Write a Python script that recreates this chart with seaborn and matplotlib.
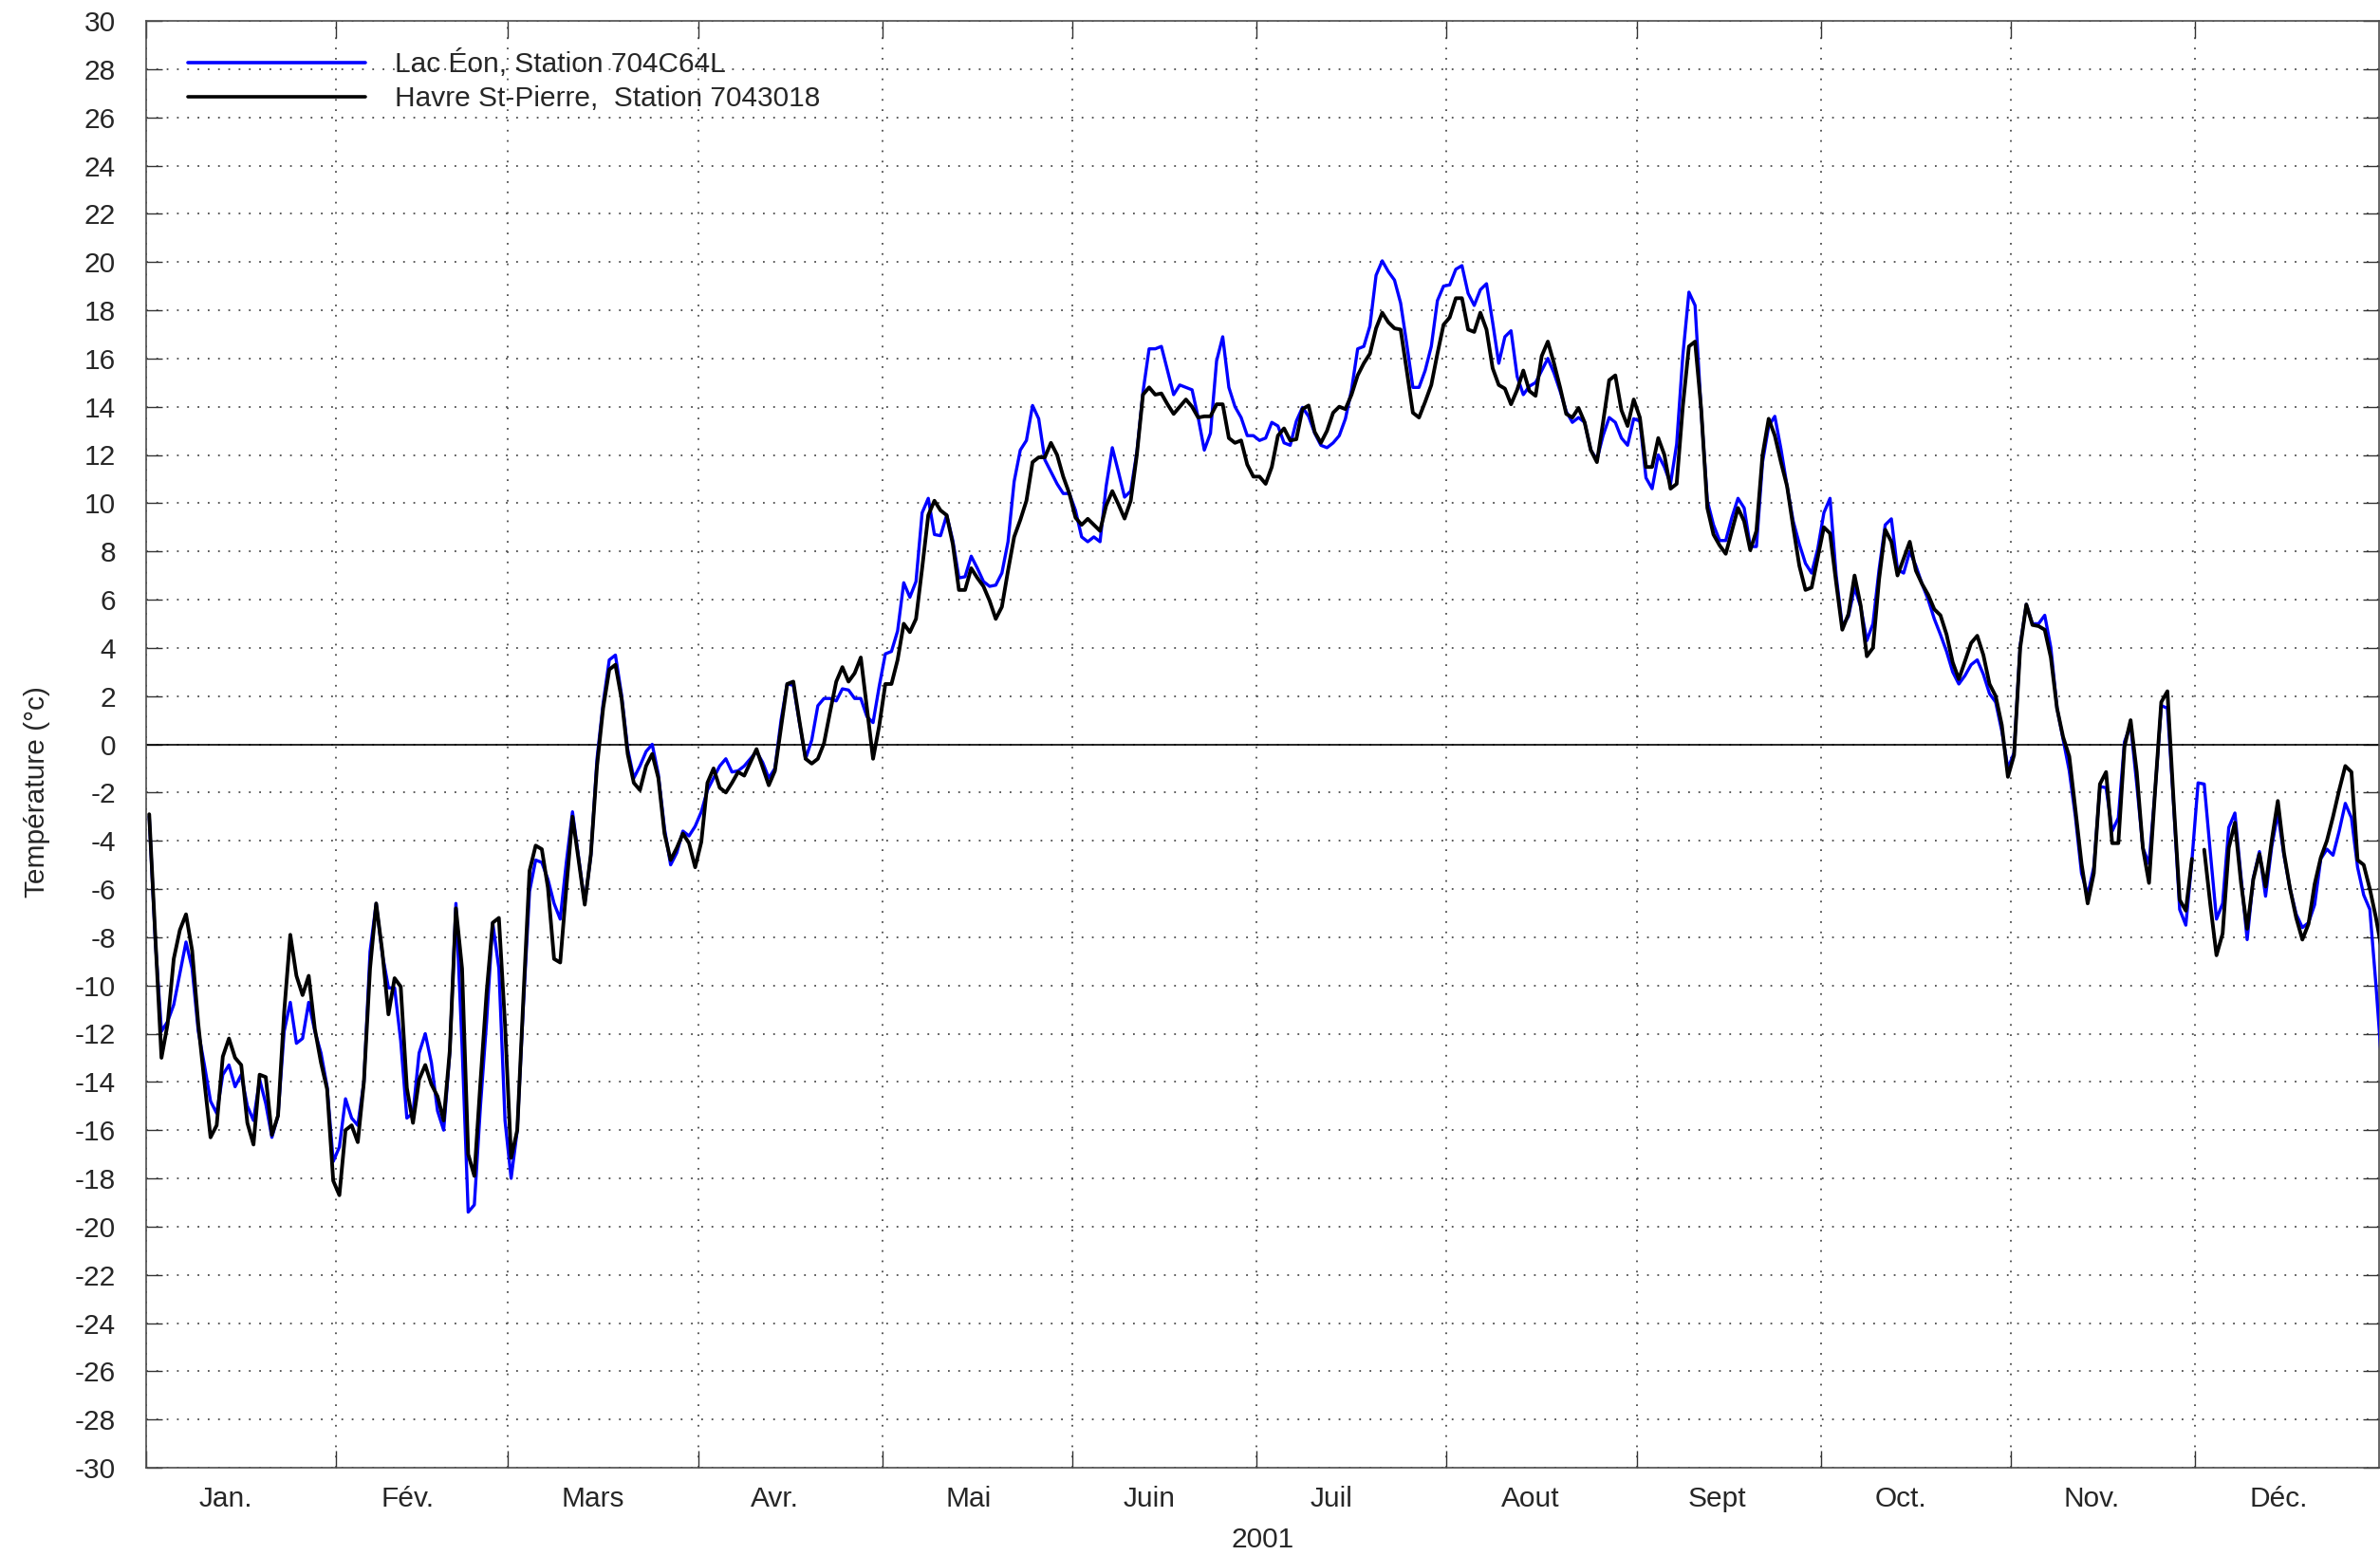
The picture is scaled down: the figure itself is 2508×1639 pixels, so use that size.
import numpy as np
import pandas as pd
import matplotlib
matplotlib.use("Agg")
import matplotlib.pyplot as plt
import seaborn as sns
from matplotlib.ticker import FixedLocator, NullFormatter, FixedFormatter

# ---------------- data ----------------
month_labels = ["Jan.", "Fév.", "Mars", "Avr.", "Mai", "Juin", "Juil", "Aout",
                "Sept", "Oct.", "Nov.", "Déc."]
month_starts = [0, 31, 59, 90, 120, 151, 181, 212, 243, 273, 304, 334, 365]
year_label = "2001"
ylabel = "Température (°c)"
series_names = ["Lac Éon, Station 704C64L", "Havre St-Pierre,  Station 7043018"]

lac_eon = [
    # Jan
    -3.0, -8.2, -11.9, -11.5, -10.8, -9.5, -8.2, -9.3, -11.9, -13.3,
    -14.8, -15.3, -13.7, -13.3, -14.2, -13.7, -15.0, -15.6, -13.9, -14.9,
    -16.3, -15.4, -11.9, -10.7, -12.4, -12.2, -10.7, -11.9, -12.8, -14.2,
    -17.3,
    # Feb
    -16.7, -14.7, -15.5, -15.8, -14.0, -8.6, -6.6, -8.7, -10.1, -10.1,
    -12.3, -15.5, -15.3, -12.8, -12.0, -13.2, -15.2, -16.0, -12.8, -6.6,
    -12.5, -19.4, -19.1, -15.0, -11.5, -7.4, -9.3, -15.6,
    # Mar
    -18.0, -16.0, -10.8, -6.1, -4.8, -4.9, -5.6, -6.6, -7.25, -4.9,
    -2.8, -4.7, -6.6, -4.6, -0.6, 1.7, 3.5, 3.7, 2.05, -0.2,
    -1.4, -0.9, -0.3, 0.0, -1.25, -3.5, -5.0, -4.5, -3.6, -3.8,
    -3.4,
    # Apr
    -2.8, -1.9, -1.4, -0.9, -0.6, -1.15, -1.1, -0.9, -0.6, -0.3,
    -0.75, -1.4, -1.0, 1.0, 2.5, 2.45, 0.9, -0.6, 0.17, 1.6,
    1.9, 1.9, 1.8, 2.3, 2.25, 1.9, 1.9, 1.15, 0.9, 2.4,
    # May
    3.75, 3.85, 4.7, 6.7, 6.1, 6.75, 9.6, 10.2, 8.7, 8.65,
    9.5, 8.45, 6.9, 6.95, 7.8, 7.3, 6.75, 6.55, 6.6, 7.1,
    8.4, 10.9, 12.2, 12.6, 14.05, 13.5, 11.8, 11.3, 10.8, 10.4,
    10.4,
    # Jun
    9.7, 8.6, 8.4, 8.6, 8.4, 10.7, 12.3, 11.3, 10.25, 10.5,
    12.1, 14.6, 16.4, 16.4, 16.5, 15.5, 14.5, 14.9, 14.8, 14.7,
    13.55, 12.2, 12.9, 15.9, 16.9, 14.8, 14.0, 13.55, 12.8, 12.8,
    # Jul
    12.6, 12.7, 13.35, 13.2, 12.5, 12.4, 13.4, 13.97, 13.6, 12.9,
    12.4, 12.3, 12.5, 12.8, 13.5, 14.7, 16.4, 16.5, 17.35, 19.45,
    20.05, 19.6, 19.25, 18.3, 16.6, 14.8, 14.8, 15.5, 16.5, 18.4,
    19.0,
    # Aug
    19.05, 19.7, 19.85, 18.7, 18.2, 18.85, 19.1, 17.5, 15.8, 16.9,
    17.15, 15.25, 14.5, 14.85, 15.0, 15.5, 16.0, 15.4, 14.65, 13.8,
    13.35, 13.55, 13.35, 12.2, 11.8, 12.8, 13.55, 13.35, 12.7, 12.4,
    13.5,
    # Sep
    13.4, 11.05, 10.6, 12.0, 11.5, 10.8, 12.45, 16.1, 18.75, 18.2,
    13.8, 10.1, 9.1, 8.45, 8.45, 9.4, 10.2, 9.8, 8.2, 8.2,
    11.7, 13.2, 13.6, 12.25, 10.7, 9.25, 8.3, 7.5, 7.1, 8.1,
    # Oct
    9.6, 10.2, 7.0, 4.9, 5.3, 6.5, 5.7, 4.3, 5.0, 7.25,
    9.1, 9.35, 7.25, 7.1, 8.0, 7.4, 6.65, 6.0, 5.2, 4.55,
    3.85, 3.0, 2.5, 2.85, 3.3, 3.5, 2.9, 2.1, 1.75, 0.55,
    -1.0,
    # Nov
    -0.35, 4.1, 5.8, 5.0, 5.0, 5.35, 4.0, 1.5, 0.2, -1.1,
    -3.0, -5.35, -6.25, -5.1, -1.75, -1.8, -3.6, -3.05, 0.1, 0.8,
    -1.65, -4.3, -4.95, -1.9, 1.6, 1.5, -2.45, -6.85, -7.5, -4.8,
    # Dec
    -1.6, -1.65, -4.5, -7.25, -6.6, -3.45, -2.85, -5.5, -8.1, -5.55,
    -4.45, -6.3, -4.25, -2.85, -4.6, -6.0, -7.05, -7.6, -7.4, -6.65,
    -4.75, -4.35, -4.6, -3.6, -2.45, -3.05, -5.1, -6.25, -6.85, -10.0,
    -13.5,
]

havre_st_pierre = [
    # Jan
    -2.9, -8.0, -13.0, -11.6, -8.9, -7.7, -7.05, -8.56, -11.6, -14.0,
    -16.3, -15.8, -12.95, -12.2, -13.0, -13.3, -15.7, -16.6, -13.7, -13.8,
    -16.2, -15.4, -11.1, -7.9, -9.6, -10.4, -9.6, -11.8, -13.2, -14.3,
    -18.1,
    # Feb
    -18.7, -16.0, -15.8, -16.5, -14.0, -9.3, -6.6, -8.6, -11.2, -9.7,
    -10.05, -14.25, -15.7, -13.9, -13.3, -14.1, -14.6, -15.6, -12.7, -6.8,
    -9.3, -17.0, -17.9, -14.0, -10.3, -7.4, -7.2, -11.6,
    # Mar
    -17.15, -16.0, -10.5, -5.25, -4.2, -4.35, -5.95, -8.9, -9.05, -5.95,
    -3.0, -4.8, -6.65, -4.55, -0.9, 1.5, 3.1, 3.3, 1.9, -0.4,
    -1.6, -1.9, -0.9, -0.4, -1.4, -3.7, -4.8, -4.3, -3.7, -4.1,
    -5.1,
    # Apr
    -4.05, -1.6, -1.0, -1.8, -2.0, -1.6, -1.15, -1.3, -0.75, -0.2,
    -0.95, -1.7, -1.1, 0.7, 2.5, 2.6, 0.96, -0.6, -0.8, -0.6,
    0.04, 1.35, 2.6, 3.2, 2.6, 2.95, 3.6, 1.5, -0.6, 0.76,
    # May
    2.5, 2.5, 3.5, 5.0, 4.65, 5.2, 7.3, 9.5, 10.1, 9.7,
    9.5, 8.3, 6.4, 6.4, 7.3, 6.9, 6.55, 5.95, 5.2, 5.7,
    7.2, 8.6, 9.3, 10.1, 11.7, 11.9, 11.9, 12.5, 12.0, 11.1,
    10.4,
    # Jun
    9.4, 9.1, 9.35, 9.1, 8.85, 9.9, 10.5, 9.95, 9.36, 10.1,
    12.0, 14.5, 14.8, 14.5, 14.55, 14.1, 13.7, 14.0, 14.3, 14.0,
    13.55, 13.6, 13.6, 14.1, 14.1, 12.7, 12.5, 12.6, 11.6, 11.1,
    # Jul
    11.1, 10.8, 11.5, 12.8, 13.1, 12.6, 12.65, 13.9, 14.05, 12.95,
    12.5, 13.0, 13.75, 14.0, 13.9, 14.5, 15.3, 15.8, 16.2, 17.25,
    17.9, 17.5, 17.25, 17.2, 15.5, 13.75, 13.55, 14.2, 14.9, 16.2,
    17.4,
    # Aug
    17.7, 18.5, 18.5, 17.2, 17.1, 17.9, 17.2, 15.6, 14.9, 14.75,
    14.1, 14.7, 15.5, 14.65, 14.45, 16.1, 16.7, 15.8, 14.8, 13.7,
    13.55, 13.95, 13.35, 12.2, 11.7, 13.35, 15.1, 15.3, 13.85, 13.2,
    14.3,
    # Sep
    13.55, 11.5, 11.5, 12.7, 12.0, 10.6, 10.8, 14.0, 16.5, 16.7,
    13.9, 9.8, 8.7, 8.25, 7.9, 8.85, 9.8, 9.25, 8.05, 8.85,
    12.0, 13.5, 12.8, 11.7, 10.7, 9.0, 7.4, 6.4, 6.5, 7.75,
    # Oct
    9.0, 8.75, 6.7, 4.75, 5.4, 7.0, 5.75, 3.65, 4.0, 6.85,
    8.9, 8.4, 7.0, 7.7, 8.4, 7.2, 6.65, 6.2, 5.6, 5.35,
    4.55, 3.4, 2.7, 3.45, 4.2, 4.5, 3.7, 2.5, 2.0, 0.8,
    -1.35,
    # Nov
    -0.45, 4.0, 5.8, 4.95, 4.9, 4.75, 3.6, 1.5, 0.3, -0.5,
    -2.7, -4.95, -6.6, -5.35, -1.65, -1.15, -4.1, -4.1, -0.1, 1.0,
    -1.15, -4.3, -5.75, -1.9, 1.75, 2.2, -2.3, -6.45, -6.9, -4.75,
    # Dec
    np.nan, -4.37, -6.65, -8.75, -7.85, -4.3, -3.25, -5.75, -7.65, -5.6,
    -4.55, -5.9, -4.0, -2.35, -4.5, -6.0, -7.2, -8.1, -7.45, -5.8,
    -4.7, -4.0, -3.0, -1.9, -0.9, -1.15, -4.8, -5.0, -6.0, -7.2,
    -8.6,
]

# ---------------- style ----------------
sns.set_theme(style="ticks")
plt.rcParams["font.family"] = ["Liberation Sans", "DejaVu Sans"]
plt.rcParams["axes.unicode_minus"] = False

FS = 21.5

fig = plt.figure(figsize=(25.08, 16.39), dpi=100)
ax = fig.add_axes([154 / 2508, 1 - 1547 / 1639, (2507 - 154) / 2508, (1547 - 22) / 1639])

day_pos = np.arange(len(lac_eon)) + 0.5


def long_frame(values, name):
    v = np.asarray(values, dtype=float)
    seg = np.cumsum(np.isnan(v))
    df = pd.DataFrame({"jour": day_pos, "temp": v, "serie": name, "seg": seg})
    return df.dropna()


df_blue = long_frame(lac_eon, series_names[0])
df_black = long_frame(havre_st_pierre, series_names[1])

sns.lineplot(data=df_blue, x="jour", y="temp", units="seg", estimator=None,
             color="#0000ff", lw=2.4, ax=ax, label=series_names[0], zorder=3)
sns.lineplot(data=df_black, x="jour", y="temp", units="seg", estimator=None,
             color="black", lw=2.8, ax=ax, label=series_names[1], zorder=4)

ax.axhline(0, color="black", lw=1.2, zorder=2)

ax.set_xlim(0, 364)
ax.set_ylim(-30, 30)

# x ticks: month boundaries (major, grid), labels inside each month (minor)
ax.xaxis.set_major_locator(FixedLocator(month_starts))
ax.xaxis.set_major_formatter(NullFormatter())
label_offsets = [13.0, 11.7, 13.9, 12.4, 14.1, 12.5, 12.2, 13.7, 13.1, 13.0, 13.2, 13.7]
label_pos = [s + o for s, o in zip(month_starts[:-1], label_offsets)]
ax.xaxis.set_minor_locator(FixedLocator(label_pos))
ax.xaxis.set_minor_formatter(FixedFormatter(month_labels))
ax.tick_params(axis="x", which="minor", length=0, pad=14, labelsize=FS)
ax.tick_params(axis="x", which="major", direction="in", length=13, width=1,
               top=True, bottom=True, color="0.2")

ax.set_yticks(np.arange(-30, 31, 2))
ax.tick_params(axis="y", which="major", direction="in", length=12, width=1,
               left=True, right=True, labelsize=FS, pad=23, color="0.2")

ax.grid(True, which="major", linestyle=(0, (1, 5)), color="0.3", lw=1.3)

for s in ax.spines.values():
    s.set_color("0.3")
    s.set_linewidth(1.2)

ax.set_xlabel(year_label, fontsize=FS, labelpad=10.5)
ax.set_ylabel(ylabel, fontsize=FS)
ax.yaxis.set_label_coords(-0.043, 0.4675)

handles, labels = ax.get_legend_handles_labels()
uniq = {}
for h, l in zip(handles, labels):
    if l not in uniq:
        uniq[l] = h
leg = ax.legend(list(uniq.values()), list(uniq.keys()),
                loc="upper left", bbox_to_anchor=(0.0187, 0.980), frameon=False,
                fontsize=FS, handlelength=6.25, handletextpad=1.05,
                labelspacing=0.25, borderaxespad=0, borderpad=0)
for line in leg.get_lines():
    line.set_linewidth(2.6)

fig.savefig("out.png", dpi=100)
